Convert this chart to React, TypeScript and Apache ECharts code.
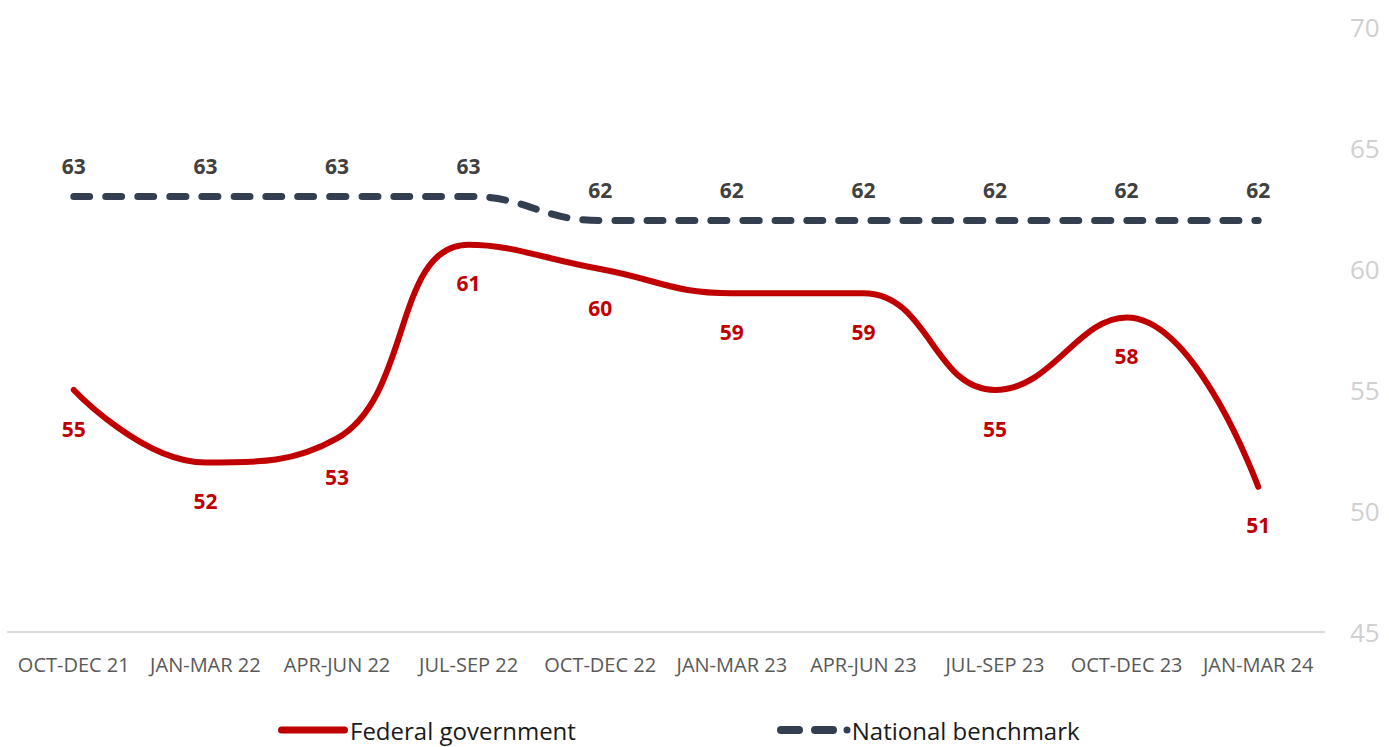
import React, { useEffect, useRef } from "react";
import * as echarts from "echarts";

const categories = [
  "OCT-DEC 21", "JAN-MAR 22", "APR-JUN 22", "JUL-SEP 22", "OCT-DEC 22",
  "JAN-MAR 23", "APR-JUN 23", "JUL-SEP 23", "OCT-DEC 23", "JAN-MAR 24",
];
const federal = [55, 52, 53, 61, 60, 59, 59, 55, 58, 51];
const benchmark = [63, 63, 63, 63, 62, 62, 62, 62, 62, 62];
const yTicks = { min: 45, max: 70, interval: 5 };

const FONT = "'Open Sans', sans-serif";

const fedIcon = "path://M3.5,0 H66.5 A3.5,3.5 0 0 1 66.5,7 H3.5 A3.5,3.5 0 0 1 3.5,0 Z";
const benchIcon =
  "path://M4,0 H22 A4,4 0 0 1 22,8 H4 A4,4 0 0 1 4,0 Z " +
  "M38,0 H56 A4,4 0 0 1 56,8 H38 A4,4 0 0 1 38,0 Z " +
  "M70,0.5 A3.5,3.5 0 0 1 70,7.5 A3.5,3.5 0 0 1 70,0.5 Z";

export default function App() {
  const ref = useRef<HTMLDivElement>(null);
  useEffect(() => {
    const chart = echarts.init(ref.current!, null, { renderer: "svg" });
    const legendText = { fontSize: 24, fontFamily: FONT, color: "#1a1a1a", padding: [0, 0, 0, -4] };
    chart.setOption({
      animation: false,
      backgroundColor: "#ffffff",
      grid: { left: 8, right: 65, top: 27, bottom: 115, containLabel: false },
      xAxis: {
        type: "category",
        data: categories,
        boundaryGap: true,
        axisLine: { show: true, lineStyle: { color: "#d9d9d9", width: 2 } },
        axisTick: { show: false },
        axisLabel: { color: "#595959", fontSize: 20, fontFamily: FONT, margin: 22, interval: 0 },
      },
      yAxis: {
        type: "value",
        position: "right",
        min: yTicks.min,
        max: yTicks.max,
        interval: yTicks.interval,
        splitLine: { show: false },
        axisLine: { show: false },
        axisTick: { show: false },
        axisLabel: { color: "#d0d0d0", fontSize: 26, fontFamily: FONT, margin: 26 },
      },
      legend: [
        {
          data: [{ name: "Federal government", icon: fedIcon }],
          left: 273,
          top: 713,
          itemWidth: 72,
          itemHeight: 7,
          itemGap: 0,
          textStyle: legendText,
        },
        {
          data: [{ name: "National benchmark", icon: benchIcon }],
          left: 772,
          top: 713,
          itemWidth: 74,
          itemHeight: 8,
          itemGap: 0,
          textStyle: legendText,
        },
      ],
      series: [
        {
          name: "Federal government",
          type: "line",
          data: federal,
          smooth: 0.45,
          showSymbol: true,
          symbol: "circle",
          symbolSize: 0.1,
          lineStyle: { color: "#c00000", width: 6, cap: "round" },
          itemStyle: { color: "#c00000" },
          label: {
            show: true,
            position: "bottom",
            distance: 28,
            color: "#c00000",
            fontSize: 21,
            fontWeight: "bold",
            fontFamily: FONT,
          },
        },
        {
          name: "National benchmark",
          type: "line",
          data: benchmark,
          smooth: 0.45,
          showSymbol: true,
          symbol: "circle",
          symbolSize: 0.1,
          lineStyle: { color: "#333f50", width: 7, type: [16, 16], cap: "round" },
          itemStyle: { color: "#333f50" },
          label: {
            show: true,
            position: "top",
            distance: 20,
            color: "#404040",
            fontSize: 21,
            fontWeight: "bold",
            fontFamily: FONT,
          },
        },
      ],
    });
    return () => chart.dispose();
  }, []);
  return (
    <div
      ref={ref}
      style={{ position: "fixed", left: 0, top: 0, width: 1389, height: 747, background: "#fff" }}
    />
  );
}
